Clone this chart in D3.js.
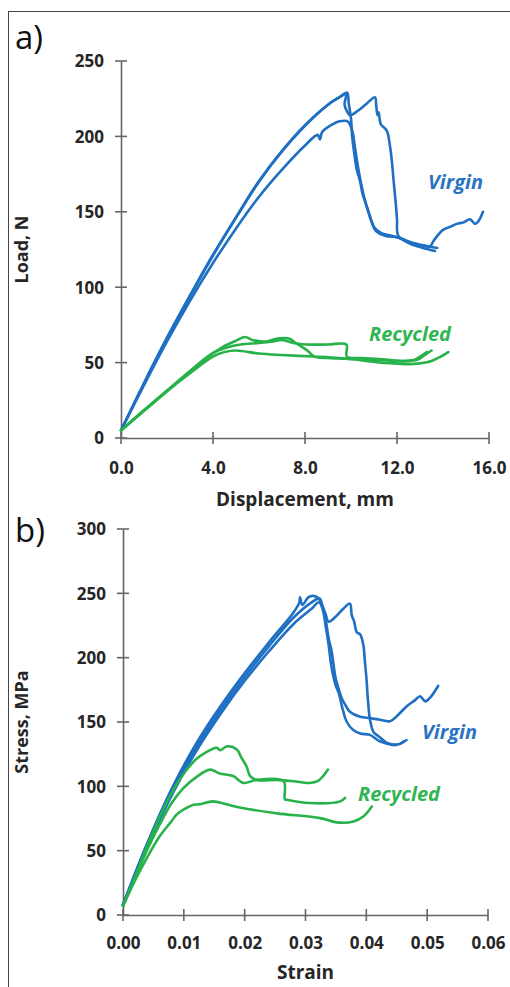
<!DOCTYPE html>
<html><head><meta charset="utf-8">
<script src="https://cdn.jsdelivr.net/npm/d3@7"></script>
<style>
html,body{margin:0;padding:0;background:#fff;}
svg{display:block;}
text{font-family:"Open Sans",sans-serif;}
</style></head>
<body>
<script>
// ---------- DATA ----------
// Panel a) Load (N) vs Displacement (mm)
const xTicksA = [0, 4, 8, 12, 16];
const yTicksA = [0, 50, 100, 150, 200, 250];
const virginA1 = [[0,5],[1,36],[2,66],[3,94],[4,121],[5,146],[6,170],[7,190],[8,207],[9,221],[9.5,226],[9.83,229],[9.9,222],[10.0,212],[10.05,200],[10.15,188],[10.25,178],[10.4,170],[10.5,162],[10.7,153],[10.85,146],[11.0,140],[11.3,136],[11.8,134],[12.2,132],[12.8,129],[13.4,127],[13.75,126]];
const virginA2 = [[0,5],[1,36.5],[2,66.5],[3,94.5],[4,121.5],[5,146.5],[6,170.5],[7,190.5],[8,207.5],[9,221],[9.5,226],[9.78,228],[9.72,221],[9.85,216],[9.96,214],[10.3,217],[10.7,222],[11.04,226],[11.1,220],[11.15,214],[11.2,216],[11.3,208],[11.55,204],[11.7,193],[11.8,180],[11.85,171],[11.95,155],[12.0,145],[12.06,134],[12.56,129],[13.14,126],[13.65,124]];
const virginA3 = [[0,5],[1,35],[2,64],[3,91],[4,116],[5,139],[6,160],[7,178],[8,194],[8.55,201],[8.65,198],[8.75,203],[9.2,208],[9.5,210],[9.85,210],[10.05,204],[10.15,195],[10.3,180],[10.45,168],[10.6,158],[10.75,150],[10.9,143],[11.1,137],[11.5,134],[12.1,133],[12.5,130],[13.0,128],[13.43,127],[13.6,131],[14.0,138],[14.3,140],[14.6,142],[14.9,143],[15.17,145],[15.4,142],[15.55,144],[15.74,150]];
const recycledA1 = [[0,5],[1,18],[2,31],[3,44],[4,56],[4.5,61],[5,64.5],[5.4,67],[5.7,65],[6.3,64],[6.8,66],[7.3,66],[7.6,63],[7.8,61],[8.1,58],[8.4,54],[9,53],[10,52.5],[11,52],[12,51],[12.7,51.5],[13.0,54],[13.3,57]];
const recycledA2 = [[0,5],[1,18.5],[2,31.5],[3,44.5],[4,56.5],[4.6,60],[5.2,62],[6,63],[6.6,64],[7.0,65],[7.5,63],[8.07,62],[9,62],[9.8,62],[9.82,54],[10.5,53],[11.5,52],[12.3,51],[12.9,52],[13.2,55],[13.5,58]];
const recycledA3 = [[0,5],[1,18],[2,31],[3,43],[4,54],[4.5,57],[5,58],[6,56],[7,55],[8.36,54],[9.5,53],[10.5,51.5],[11.3,50],[11.84,49.5],[12.5,49],[13,49.5],[13.5,51],[13.9,54],[14.23,57]];

// Panel b) Stress (MPa) vs Strain
const xTicksB = [0, 0.01, 0.02, 0.03, 0.04, 0.05, 0.06];
const yTicksB = [0, 50, 100, 150, 200, 250, 300];
const virginB1 = [[0,8],[0.004,56],[0.008,98],[0.012,133],[0.016,162],[0.02,188],[0.024,212],[0.028,235],[0.029,243],[0.0291,247],[0.0295,241],[0.0305,247],[0.0313,248],[0.0322,246],[0.0328,240],[0.0333,230],[0.0338,215],[0.0343,205],[0.0346,195],[0.035,183],[0.0355,175],[0.036,168],[0.0367,162],[0.0373,158],[0.039,154],[0.0406,153],[0.042,152],[0.0439,150.6],[0.045,154.5],[0.0466,162],[0.048,167],[0.0488,170],[0.0497,166],[0.0505,169],[0.0518,178]];
const virginB2 = [[0,8],[0.004,55],[0.008,96],[0.012,130],[0.016,159],[0.02,185],[0.024,209],[0.028,231],[0.031,243],[0.0323,246],[0.0328,240],[0.0333,234],[0.0338,228],[0.035,232],[0.0362,238],[0.0373,242],[0.0376,233],[0.038,228],[0.0384,220],[0.039,218],[0.0395,210],[0.0398,195],[0.04,185],[0.0403,165],[0.0406,152],[0.0412,142],[0.042,139],[0.0433,134],[0.0445,132],[0.0455,133],[0.0462,135]];
const virginB3 = [[0,8],[0.004,53],[0.008,93],[0.012,127],[0.016,156],[0.02,182],[0.024,205],[0.028,226],[0.031,238],[0.0322,243],[0.0328,238],[0.0333,225],[0.0338,210],[0.0342,195],[0.0346,185],[0.035,178],[0.0355,172],[0.036,162],[0.0368,150],[0.0378,144],[0.039,141],[0.0406,140],[0.0422,135],[0.0444,132.5],[0.0455,133],[0.0466,136]];
const recycledB1 = [[0,7],[0.002,30],[0.004,54],[0.006,76],[0.008,95],[0.01,110],[0.012,121],[0.0135,126],[0.0154,130],[0.016,128],[0.017,131],[0.0187,128.6],[0.0195,122],[0.0203,115.6],[0.0209,108],[0.022,105],[0.0253,105],[0.028,104],[0.0307,102.6],[0.032,104],[0.0329,108],[0.0337,113]];
const recycledB2 = [[0,7],[0.002,29],[0.004,51],[0.006,70],[0.008,87],[0.01,99],[0.012,107],[0.0143,113],[0.0159,110],[0.0181,108],[0.0198,102.6],[0.022,105],[0.0264,104],[0.0266,90],[0.0269,89.6],[0.0307,87],[0.0357,88.3],[0.0365,91]];
const recycledB3 = [[0,7],[0.002,27],[0.004,45],[0.006,61],[0.008,73],[0.0088,78],[0.01,82],[0.0116,85.7],[0.0125,86],[0.0148,88.3],[0.017,86],[0.0198,83],[0.0253,79],[0.0324,75.3],[0.0351,72],[0.0379,72.7],[0.0395,76.5],[0.0409,84.3]];

// ---------- DRAW ----------
const W = 510, H = 987;
const BLUE = "#1f6fc3", GREEN = "#27b24a", AXIS = "#666";
const svg = d3.select("body").append("svg").attr("width", W).attr("height", H);

// frame
svg.append("line").attr("x1",8).attr("x2",W).attr("y1",11.5).attr("y2",11.5).attr("stroke","#444").attr("stroke-width",1);
svg.append("line").attr("x1",8.5).attr("x2",8.5).attr("y1",11).attr("y2",H).attr("stroke","#444").attr("stroke-width",1);

function panel(cfg){
  const x = d3.scaleLinear().domain(cfg.xDomain).range(cfg.xRange);
  const y = d3.scaleLinear().domain(cfg.yDomain).range(cfg.yRange);
  const g = svg.append("g");
  const xAxis = d3.axisBottom(x).tickValues(cfg.xTicks).tickSize(0).tickFormat(cfg.xFmt);
  const gx = g.append("g").attr("transform",`translate(0,${cfg.yRange[0]})`).call(xAxis);
  const gy = g.append("g").attr("transform",`translate(${cfg.xRange[0]},0)`)
     .call(d3.axisLeft(y).tickValues(cfg.yTicks).tickSize(0).tickFormat(d3.format("d")));
  [gx,gy].forEach(a=>{
    a.select(".domain").attr("stroke",AXIS).attr("stroke-width",1.6);
    a.selectAll("text").attr("fill","#262626").attr("font-weight",700).attr("font-size",17).attr("font-family","'Open Sans',sans-serif");
  });
  gx.selectAll("text").attr("dy",null).attr("y",cfg.xLabelY);
  gy.selectAll("text").attr("x",-17).attr("dy","0.35em");
  g.selectAll(".xt").data(cfg.xTicks).join("line")
    .attr("x1",d=>x(d)).attr("x2",d=>x(d)).attr("y1",cfg.yRange[0]-6).attr("y2",cfg.yRange[0]+6)
    .attr("stroke",AXIS).attr("stroke-width",1.6);
  g.selectAll(".yt").data(cfg.yTicks).join("line")
    .attr("y1",d=>y(d)).attr("y2",d=>y(d)).attr("x1",cfg.xRange[0]-6).attr("x2",cfg.xRange[0]+6)
    .attr("stroke",AXIS).attr("stroke-width",1.6);
  const line = d3.line().x(d=>x(d[0])).y(d=>y(d[1])).curve(d3.curveCatmullRom.alpha(0.5));
  cfg.series.forEach(s=>{
    g.append("path").attr("d",line(s.data)).attr("fill","none").attr("stroke",s.color)
      .attr("stroke-width",2.6).attr("stroke-linejoin","round").attr("stroke-linecap","round");
  });
  g.append("text").attr("x",(cfg.xRange[0]+cfg.xRange[1])/2).attr("y",cfg.xTitleY).attr("text-anchor","middle")
    .attr("font-weight",700).attr("font-size",19).attr("fill","#262626").text(cfg.xTitle);
  g.append("text").attr("transform",`translate(${cfg.yTitleX},${(cfg.yRange[0]+cfg.yRange[1])/2}) rotate(-90)`)
    .attr("text-anchor","middle").attr("font-weight",700).attr("font-size",18).attr("fill","#262626").text(cfg.yTitle);
  g.append("text").attr("x",15).attr("y",cfg.panelY).attr("font-size",33).attr("fill","#111")
    .attr("font-family","'Open Sans',sans-serif").text(cfg.panel);
  cfg.tags.forEach(t=>{
    g.append("text").attr("x",t.x).attr("y",t.y).attr("font-weight",700).attr("font-style","italic")
      .attr("font-size",20).attr("fill",t.color).text(t.text);
  });
}

panel({
  xDomain:[0,16], xRange:[121,489], yDomain:[0,250], yRange:[438,61],
  xTicks:xTicksA, yTicks:yTicksA, xFmt:d3.format(".1f"), xLabelY:36,
  xTitle:"Displacement, mm", xTitleY:506, yTitle:"Load, N", yTitleX:28,
  panel:"a)", panelY:49,
  series:[
    {data:virginA1,color:BLUE},{data:virginA2,color:BLUE},{data:virginA3,color:BLUE},
    {data:recycledA1,color:GREEN},{data:recycledA2,color:GREEN},{data:recycledA3,color:GREEN}
  ],
  tags:[{x:428,y:189,text:"Virgin",color:"#2a73c2"},{x:369,y:341,text:"Recycled",color:"#30b552"}]
});

panel({
  xDomain:[0,0.06], xRange:[123,488], yDomain:[0,300], yRange:[915,529],
  xTicks:xTicksB, yTicks:yTicksB, xFmt:d3.format(".2f"), xLabelY:34,
  xTitle:"Strain", xTitleY:979, yTitle:"Stress, MPa", yTitleX:28,
  panel:"b)", panelY:542,
  series:[
    {data:virginB1,color:BLUE},{data:virginB2,color:BLUE},{data:virginB3,color:BLUE},
    {data:recycledB1,color:GREEN},{data:recycledB2,color:GREEN},{data:recycledB3,color:GREEN}
  ],
  tags:[{x:422,y:739,text:"Virgin",color:"#2a73c2"},{x:358,y:801,text:"Recycled",color:"#30b552"}]
});
</script>
</body></html>
